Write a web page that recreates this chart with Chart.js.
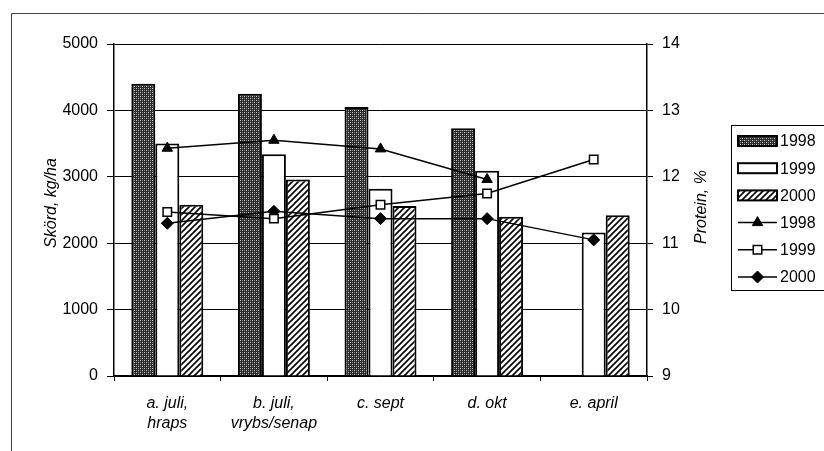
<!DOCTYPE html>
<html>
<head>
<meta charset="utf-8">
<script src="https://cdn.jsdelivr.net/npm/chart.js@4.4.1/dist/chart.umd.min.js"></script>
<style>
  html, body { margin: 0; padding: 0; background: #fff; }
  #wrap { width: 824px; height: 451px; position: relative; }
</style>
</head>
<body>
<div id="wrap"><canvas id="c" width="824" height="451"></canvas></div>
<script>
// ---- data ----
const categories = [["a. juli,", "hraps"], ["b. juli,", "vrybs/senap"], ["c. sept"], ["d. okt"], ["e. april"]];
const yield1998 = [4400, 4250, 4050, 3730, null];
const yield1999 = [3500, 3340, 2820, 3090, 2160];
const yield2000 = [2580, 2960, 2560, 2400, 2420];
const protein1998 = [12.43, 12.55, 12.42, 11.96, null];
const protein1999 = [11.47, 11.37, 11.58, 11.75, 12.26];
const protein2000 = [11.30, 11.48, 11.37, 11.37, 11.05];
const seriesLabels = ["1998", "1999", "2000"];
const yieldTicks = { min: 0, max: 5000, step: 1000 };
const proteinTicks = { min: 9, max: 14, step: 1 };
const leftTitle = "Skörd, kg/ha";
const rightTitle = "Protein, %";

const FONT = "'Liberation Sans', Arial, sans-serif";

function makeDotPattern() {
  const c = document.createElement('canvas');
  c.width = 4; c.height = 4;
  const x = c.getContext('2d');
  x.fillStyle = '#2a2a2a'; x.fillRect(0, 0, 4, 4);
  x.fillStyle = '#c8c8c8'; x.fillRect(0, 0, 1, 1); x.fillRect(2, 2, 1, 1);
  x.fillStyle = '#8a8a8a'; x.fillRect(2, 0, 1, 1); x.fillRect(0, 2, 1, 1);
  return x.createPattern(c, 'repeat');
}
function makeHatchPattern() {
  const s = 6;
  const c = document.createElement('canvas');
  c.width = s; c.height = s;
  const x = c.getContext('2d');
  x.fillStyle = '#fff'; x.fillRect(0, 0, s, s);
  x.strokeStyle = '#000'; x.lineWidth = 1.6;
  x.beginPath();
  x.moveTo(-1, s + 1); x.lineTo(s + 1, -1);
  x.moveTo(-s / 2 - 1, s / 2 + 1); x.lineTo(s / 2 + 1, -s / 2 - 1);
  x.moveTo(s / 2 - 1, s * 1.5 + 1); x.lineTo(s * 1.5 + 1, s / 2 - 1);
  x.stroke();
  return x.createPattern(c, 'repeat');
}
const dotPat = makeDotPattern();
const hatchPat = makeHatchPattern();

const framePlugin = {
  id: 'frame',
  beforeDraw(chart) {
    const ctx = chart.ctx;
    ctx.save();
    ctx.fillStyle = '#fff';
    ctx.fillRect(0, 0, chart.width, chart.height);
    ctx.strokeStyle = '#444';
    ctx.lineWidth = 1;
    ctx.beginPath();
    ctx.moveTo(11.5, 451); ctx.lineTo(11.5, 13.5); ctx.lineTo(824, 13.5);
    ctx.stroke();
    ctx.restore();
  },
  afterDraw(chart) {
    const ctx = chart.ctx;
    ctx.save();
    ctx.fillStyle = '#000';
    ctx.font = 'italic 16px ' + FONT;
    ctx.textAlign = 'center';
    ctx.textBaseline = 'middle';
    ctx.translate(52, 203); ctx.rotate(-Math.PI / 2);
    ctx.fillText(leftTitle, 0, 0);
    ctx.restore();
    ctx.save();
    ctx.fillStyle = '#000';
    ctx.font = 'italic 16px ' + FONT;
    ctx.textAlign = 'center';
    ctx.textBaseline = 'middle';
    ctx.translate(702, 207); ctx.rotate(-Math.PI / 2);
    ctx.fillText(rightTitle, 0, 0);
    ctx.restore();

    // legend
    ctx.save();
    ctx.strokeStyle = '#000';
    ctx.lineWidth = 1;
    ctx.fillStyle = '#fff';
    ctx.fillRect(731.5, 125.5, 100, 165);
    ctx.strokeRect(731.5, 125.5, 100, 165);
    const ds = chart.data.datasets;
    ctx.font = '16px ' + FONT;
    ctx.textBaseline = 'middle';
    ctx.textAlign = 'left';
    ds.forEach((d, i) => {
      const cy = 141 + i * 27.2;
      const x0 = 738, x1 = 777;
      if (d.type === 'bar') {
        ctx.fillStyle = d.backgroundColor;
        ctx.fillRect(x0, cy - 5, x1 - x0, 10);
        ctx.lineWidth = 2;
        ctx.strokeStyle = '#000';
        ctx.strokeRect(x0, cy - 5, x1 - x0, 10);
      } else {
        ctx.strokeStyle = '#000';
        ctx.lineWidth = 1.5;
        ctx.beginPath(); ctx.moveTo(x0, cy); ctx.lineTo(x1, cy); ctx.stroke();
        ctx.save();
        ctx.fillStyle = d.pointBackgroundColor;
        ctx.strokeStyle = d.pointBorderColor;
        ctx.lineWidth = d.pointBorderWidth;
        Chart.helpers.drawPoint(ctx, {
          pointStyle: d.pointStyle, rotation: 0, radius: d.pointRadius,
          borderWidth: d.pointBorderWidth
        }, (x0 + x1) / 2, cy);
        ctx.restore();
      }
      ctx.fillStyle = '#000';
      ctx.fillText(d.label, 780, cy + 1);
    });
    ctx.restore();
  }
};

const ctx = document.getElementById('c').getContext('2d');
new Chart(ctx, {
  data: {
    labels: categories,
    datasets: [
      { type: 'bar', label: seriesLabels[0], data: yield1998, yAxisID: 'y',
        backgroundColor: dotPat, borderColor: '#000', borderWidth: 2, order: 2 },
      { type: 'bar', label: seriesLabels[1], data: yield1999, yAxisID: 'y',
        backgroundColor: '#fff', borderColor: '#000', borderWidth: 2, order: 2 },
      { type: 'bar', label: seriesLabels[2], data: yield2000, yAxisID: 'y',
        backgroundColor: hatchPat, borderColor: '#000', borderWidth: 2, order: 2 },
      { type: 'line', label: seriesLabels[0], data: protein1998, yAxisID: 'y1',
        borderColor: '#000', borderWidth: 1.5, pointStyle: 'triangle', pointRadius: 6,
        pointBackgroundColor: '#000', pointBorderColor: '#000', pointBorderWidth: 1, order: 1 },
      { type: 'line', label: seriesLabels[1], data: protein1999, yAxisID: 'y1',
        borderColor: '#000', borderWidth: 1.5, pointStyle: 'rect', pointRadius: 6,
        pointBackgroundColor: '#fff', pointBorderColor: '#000', pointBorderWidth: 1.5, order: 1 },
      { type: 'line', label: seriesLabels[2], data: protein2000, yAxisID: 'y1',
        borderColor: '#000', borderWidth: 1.5, pointStyle: 'rectRot', pointRadius: 6,
        pointBackgroundColor: '#000', pointBorderColor: '#000', pointBorderWidth: 1, order: 1 }
    ]
  },
  options: {
    responsive: false,
    animation: false,
    events: [],
    layout: { padding: { top: 44, left: 0, right: 0, bottom: 0 } },
    datasets: { bar: { categoryPercentage: 0.675, barPercentage: 1.0 } },
    plugins: { legend: { display: false }, tooltip: { enabled: false } },
    scales: {
      x: {
        type: 'category', offset: true,
        grid: { offset: true, drawOnChartArea: false, drawTicks: true, tickLength: 5, color: '#000' },
        border: { color: '#000', width: 1.5 },
        ticks: { color: '#000', font: { family: FONT, size: 16, style: 'italic', lineHeight: 1.25 }, padding: 13, maxRotation: 0, autoSkip: false },
        afterFit(s) { s.height = 75; }
      },
      y: {
        position: 'left', min: yieldTicks.min, max: yieldTicks.max,
        grid: { color: '#000', lineWidth: 1, tickLength: 7 },
        border: { color: '#000', width: 1.5 },
        ticks: { stepSize: yieldTicks.step, color: '#000', font: { family: FONT, size: 16 }, padding: 9,
                 callback: (v) => String(v) },
        afterFit(s) { s.width = 114; }
      },
      y1: {
        position: 'right', min: proteinTicks.min, max: proteinTicks.max,
        grid: { drawOnChartArea: false, color: '#000', tickLength: 6 },
        border: { color: '#000', width: 1.5 },
        ticks: { stepSize: proteinTicks.step, color: '#000', font: { family: FONT, size: 16 }, padding: 9,
                 callback: (v) => String(v) },
        afterFit(s) { s.width = 177; }
      }
    }
  },
  plugins: [framePlugin]
});
</script>
</body>
</html>
